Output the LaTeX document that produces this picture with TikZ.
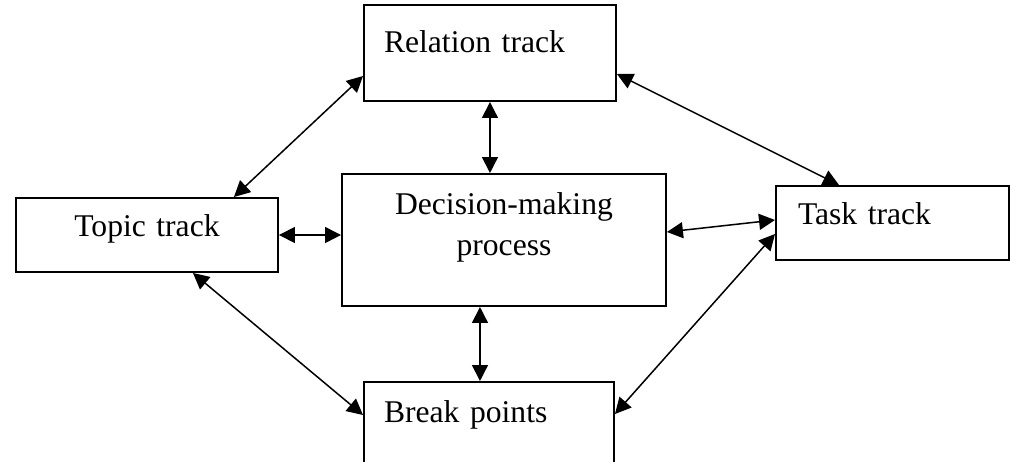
\documentclass[tikz,border=0pt]{standalone}
\usepackage{fontspec}
\setmainfont{Liberation Serif}
\usepackage{tikz}
\usetikzlibrary{arrows.meta, positioning, calc}

\begin{document}
\begin{tikzpicture}[
  x=0.02cm, y=-0.02cm,
  track/.style={draw, line width=0.04cm, rectangle, anchor=north west, inner ysep=0pt,
    font=\fontsize{18}{23.4}\selectfont},
  link/.style={line width=0.03cm, {Triangle[length=0.32cm, width=0.32cm]}-{Triangle[length=0.32cm, width=0.32cm]}}
]
  \useasboundingbox (0,0) rectangle (1010,461);
  \clip (0,0) rectangle (1010,461);

  \node[track, inner xsep=0.4cm, text width=4.24cm, align=left,
        text height=0.96cm, text depth=0.96cm] (relation) at (363,4) {Relation track};
  \node[track, inner xsep=0pt, text width=5.24cm, align=center,
        text height=0.76cm, text depth=0.72cm] (topic) at (15,197) {Topic track};
  \node[track, inner xsep=0pt, text width=6.48cm, align=center,
        text height=0.8cm, text depth=1.84cm] (decision) at (341,173) {Decision-making\\process};
  \node[track, inner xsep=0.44cm, text width=3.78cm, align=left,
        text height=0.76cm, text depth=0.72cm] (task) at (775,185) {Task track};
  \node[track, inner xsep=0.4cm, text width=4.2cm, align=left,
        text height=0.8cm, text depth=1.12cm] (breakp) at (363,381) {Break points};

  % links to the centre box
  \draw[link] (relation.south) -- (relation.south |- decision.north);
  \draw[link] ([xshift=-0.18cm]breakp.north |- decision.south) -- ([xshift=-0.18cm]breakp.north);
  \draw[link] (topic.east) -- (topic.east -| decision.west);
  \draw[link] ([yshift=0.16cm]decision.east) -- ([yshift=0.06cm]task.west);

  % links round the outside
  \draw[link] ([yshift=-0.46cm]relation.west) -- ([xshift=1.74cm]topic.north);
  \draw[link] ([yshift=-0.42cm]relation.east) -- ([xshift=-1.07cm]task.north);
  \draw[link] ([xshift=0.92cm]topic.south) -- ([yshift=0.3cm]breakp.west);
  \draw[link] ([yshift=-0.22cm]task.west) -- ([yshift=0.32cm]breakp.east);
\end{tikzpicture}
\end{document}
